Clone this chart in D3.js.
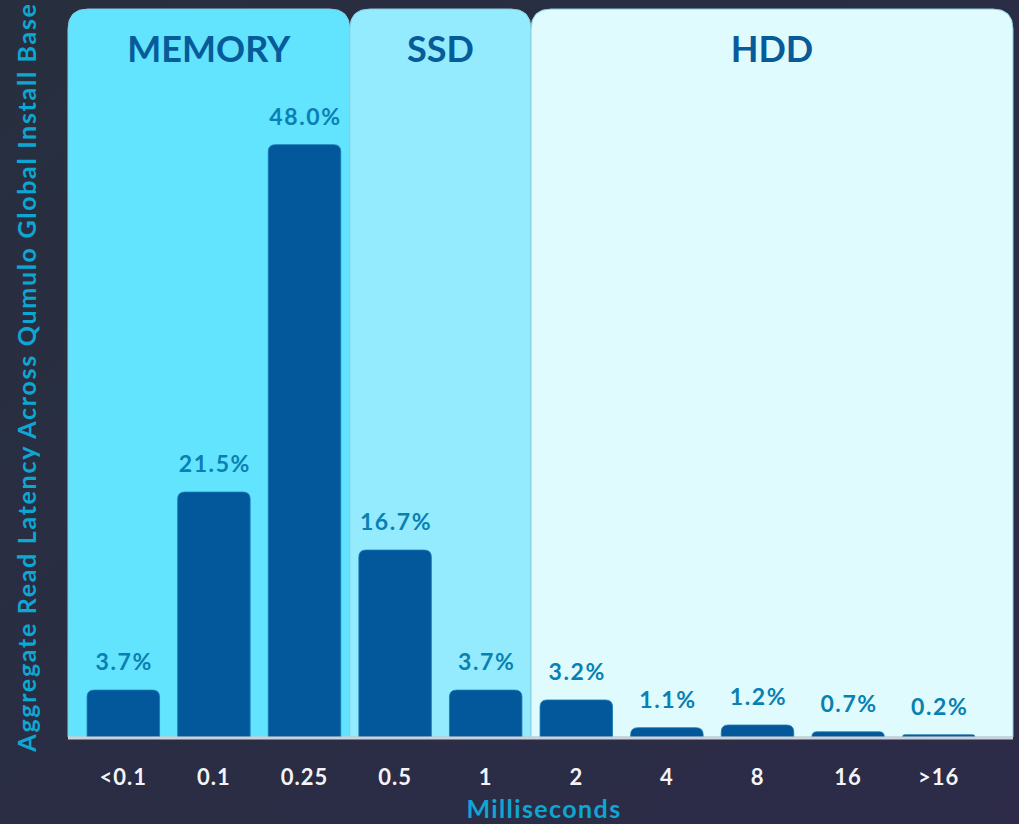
<!DOCTYPE html>
<html>
<head>
<meta charset="utf-8">
<script src="https://cdn.jsdelivr.net/npm/d3@7"></script>
<style>
    html, body { margin: 0; padding: 0; background: #2a2e43; }
    #chart { width: 1019px; height: 824px; }
    text { font-family: Lato, "Open Sans", sans-serif; }
</style>
</head>
<body>
<div id="chart"></div>
<script>
// latency buckets (ms)
const categories = ["<0.1", "0.1", "0.25", "0.5", "1", "2", "4", "8", "16", ">16"];
// printed share labels
const shares = [3.7, 21.5, 48.0, 16.7, 3.7, 3.2, 1.1, 1.2, 0.7, 0.2];
// bar heights as drawn in the source (not proportional to the labels there)
const barLevels = [3.8, 19.85, 48.0, 15.15, 3.8, 3.0, 0.75, 0.97, 0.42, 0.18];
// storage tiers over the buckets
const tiers = ["MEMORY", "SSD", "HDD"];
const tierStart = ["<0.1", "0.5", "2"];
const tierEnd = ["0.25", "1", ">16"];
const tierColors = ["#62e3fe", "#94ebfe", "#e0fbfe"];

const width = 1019;
const height = 824;
const plotLeft = 68;
const plotRight = 1013;
const plotTop = 9;
const baseY = 737;

const barColor = "#02589a";
const labelColor = "#0a80b2";
const titleColor = "#0ea6d2";

const xScale = d3.scaleBand()
    .domain(categories)
    .range([78, 984])
    .paddingInner(0.2)
    .paddingOuter(0.1);

const yScale = d3.scaleLinear()
    .domain([0, 50])
    .range([baseY, 120]);

const topRounded = (x, y, w, h, r) => {
    r = Math.min(r, h, w / 2);
    return `M${x},${y + h}V${y + r}Q${x},${y} ${x + r},${y}H${x + w - r}Q${x + w},${y} ${x + w},${y + r}V${y + h}Z`;
};

const svg = d3.select("#chart")
    .append("svg")
    .attr("width", width)
    .attr("height", height)
    .attr("viewBox", `0 0 ${width} ${height}`);

const defs = svg.append("defs");
const bg = defs.append("linearGradient")
    .attr("id", "bg")
    .attr("x1", "0").attr("y1", "0")
    .attr("x2", "1").attr("y2", "1");
bg.append("stop").attr("offset", "0%").attr("stop-color", "#272f3e");
bg.append("stop").attr("offset", "100%").attr("stop-color", "#2d2b49");

svg.append("rect")
    .attr("width", width)
    .attr("height", height)
    .attr("fill", "url(#bg)");

// tier panels
const step = xScale.step();
const bw = xScale.bandwidth();
const gap = (step - bw) / 2;
const panelData = tiers.map((name, i) => {
    const x0 = i === 0 ? plotLeft : xScale(tierStart[i]) - gap;
    const x1 = i === tiers.length - 1 ? plotRight : xScale(tierEnd[i]) + bw + gap;
    return { name, x0, x1, color: tierColors[i] };
});

svg.selectAll(".panel")
    .data(panelData)
    .join("path")
    .attr("class", "panel")
    .attr("d", d => topRounded(d.x0, plotTop, d.x1 - d.x0, baseY - plotTop, 20))
    .attr("fill", d => d.color)
    .attr("stroke", "#86cde0")
    .attr("stroke-width", 1);

svg.selectAll(".panel-title")
    .data(panelData)
    .join("text")
    .attr("class", "panel-title")
    .attr("x", d => (d.x0 + d.x1) / 2)
    .attr("y", 62)
    .attr("text-anchor", "middle")
    .attr("fill", "#075b98")
    .attr("font-size", 36)
    .attr("font-weight", 700)
    .text(d => d.name);

// bars
svg.selectAll(".bar")
    .data(categories)
    .join("path")
    .attr("class", "bar")
    .attr("d", (d, i) => topRounded(xScale(d), yScale(barLevels[i]), bw, baseY - yScale(barLevels[i]), 7))
    .attr("fill", barColor)
    .attr("stroke", "#1a78b2")
    .attr("stroke-width", 0.8);

svg.selectAll(".bar-label")
    .data(categories)
    .join("text")
    .attr("class", "bar-label")
    .attr("x", d => xScale(d) + bw / 2 + 1)
    .attr("y", (d, i) => yScale(barLevels[i]) - 20)
    .attr("text-anchor", "middle")
    .attr("fill", labelColor)
    .attr("font-size", 23)
    .attr("font-weight", 700)
    .attr("letter-spacing", 1.6)
    .text((d, i) => `${shares[i].toFixed(1)}%`);

// baseline
svg.append("line")
    .attr("x1", plotLeft)
    .attr("x2", plotRight)
    .attr("y1", baseY + 1)
    .attr("y2", baseY + 1)
    .attr("stroke", "#cfd0d6")
    .attr("stroke-width", 3);

// x axis
const xAxis = svg.append("g")
    .attr("class", "x-axis")
    .attr("transform", `translate(0, ${baseY})`)
    .call(d3.axisBottom(xScale).tickSize(0).tickPadding(0));

xAxis.select(".domain").remove();
xAxis.selectAll("text")
    .attr("dy", null)
    .attr("y", 48)
    .attr("fill", "#f4f4f6")
    .attr("font-size", 22)
    .attr("font-weight", 700)
    .attr("font-family", "Lato, sans-serif")
    .attr("letter-spacing", 1);

svg.append("text")
    .attr("class", "axis-label x-axis-label")
    .attr("x", 544)
    .attr("y", 818)
    .attr("text-anchor", "middle")
    .attr("fill", titleColor)
    .attr("font-size", 25)
    .attr("font-weight", 700)
    .attr("letter-spacing", 1.4)
    .text("Milliseconds");

svg.append("text")
    .attr("class", "axis-label y-axis-label")
    .attr("transform", "translate(36, 377) rotate(-90)")
    .attr("text-anchor", "middle")
    .attr("fill", titleColor)
    .attr("font-size", 25)
    .attr("font-weight", 700)
    .attr("letter-spacing", 1.7)
    .text("Aggregate Read Latency Across Qumulo Global Install Base");
</script>
</body>
</html>
